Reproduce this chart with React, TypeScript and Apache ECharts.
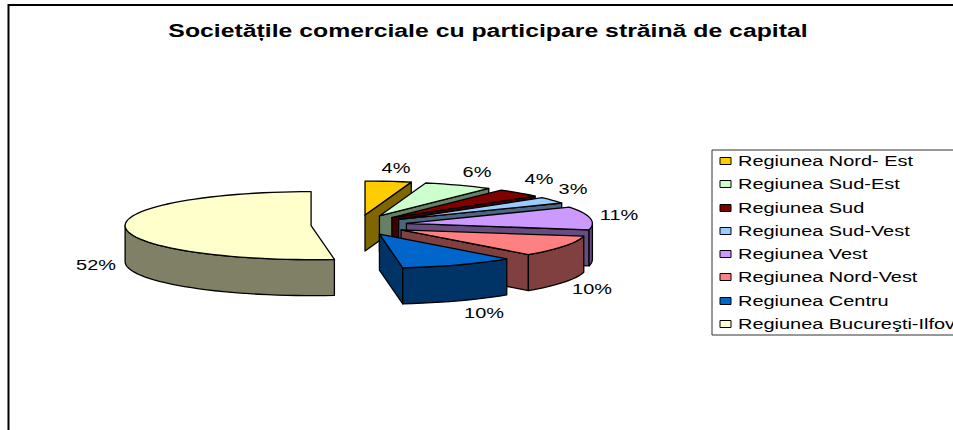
import React, { useEffect, useRef } from "react";
import * as echarts from "echarts";

const categories = [
  "Regiunea Nord- Est",
  "Regiunea Sud-Est",
  "Regiunea Sud",
  "Regiunea Sud-Vest",
  "Regiunea Vest",
  "Regiunea Nord-Vest",
  "Regiunea Centru",
  "Regiunea Bucureşti-Ilfov",
];
const values = [4, 6, 4, 3, 11, 10, 10, 52];
const titleText = "Societățile comerciale cu participare străină de capital";

const topColors = ["#FFCC00", "#CCFFCC", "#800000", "#99CCFF", "#CC99FF", "#FF8080", "#0066CC", "#FFFFCC"];
const wallColors = ["#806600", "#668066", "#400000", "#4D6680", "#664D80", "#804040", "#003366", "#808066"];

// Layout of the exploded pie
const CX = 359, CY = 225, RX = 186, RY = 34, EX = 48, EY = 10, DEPTH = 36;
const FONT = '15px "Liberation Sans", Arial, sans-serif';
const TEXT_SCALE = 1.33;
const labelAnchors = [
  [396, 168], [477, 172], [539, 179], [573, 189], [619, 215], [592, 289], [484, 313], [96, 265],
];

const rad = (d: number) => (d * Math.PI) / 180;
const total = values.reduce((a, b) => a + b, 0);

function renderSlice(params: any, api: any) {
  const i = params.dataIndex;
  const value = api.value(0);
  const before = values.slice(0, i).reduce((a, b) => a + b, 0);
  const start = (before / total) * 360;
  const end = ((before + value) / total) * 360;
  const mid = (start + end) / 2;
  const ax = CX + EX * Math.sin(rad(mid));
  const ay = CY - EY * Math.cos(rad(mid));
  const rim = (deg: number): number[] => [ax + RX * Math.sin(rad(deg)), ay - RY * Math.cos(rad(deg))];
  const arc = (a: number, b: number): number[][] => {
    const n = Math.max(2, Math.ceil((b - a) / 3));
    const pts: number[][] = [];
    for (let k = 0; k <= n; k++) pts.push(rim(a + ((b - a) * k) / n));
    return pts;
  };
  const down = (p: number[]) => [p[0], p[1] + DEPTH];
  const stroke = { stroke: "#000", lineWidth: 1.3, lineJoin: "round" };
  const wall = (points: number[][]) => ({
    type: "polygon",
    shape: { points },
    style: { fill: wallColors[i], ...stroke },
  });
  const children: any[] = [];
  if (Math.sin(rad(end)) > 0.001) {
    const p = rim(end);
    children.push(wall([[ax, ay], p, down(p), [ax, ay + DEPTH]]));
  }
  if (Math.sin(rad(start)) < -0.001) {
    const p = rim(start);
    children.push(wall([[ax, ay], p, down(p), [ax, ay + DEPTH]]));
  }
  const a0 = Math.max(start, 90);
  const a1 = Math.min(end, 270);
  if (a1 > a0) {
    const top = arc(a0, a1);
    children.push(wall([...top, ...top.slice().reverse().map(down)]));
  }
  children.push({
    type: "polygon",
    shape: { points: [[ax, ay], ...arc(start, end)] },
    style: { fill: topColors[i], ...stroke },
  });
  const [lx, ly] = labelAnchors[i];
  children.push({
    type: "text",
    x: lx,
    y: ly,
    scaleX: TEXT_SCALE,
    z2: 50,
    style: {
      text: `${value}%`,
      font: FONT,
      fill: "#000",
      textAlign: "center",
      textVerticalAlign: "middle",
    },
  });
  return { type: "group", children };
}

export default function App() {
  const ref = useRef<HTMLDivElement>(null);
  useEffect(() => {
    const chart = echarts.init(ref.current!, null, { renderer: "svg" });
    const legendRowsY = [161, 184, 208, 231, 254, 277, 301, 324];
    const legendItems: any[] = [];
    categories.forEach((name, i) => {
      legendItems.push({
        type: "rect",
        shape: { x: 720, y: legendRowsY[i] - 3.5, width: 11, height: 7 },
        style: { fill: topColors[i], stroke: "#000", lineWidth: 1 },
      });
      legendItems.push({
        type: "text",
        x: 738,
        y: legendRowsY[i],
        scaleX: TEXT_SCALE,
        style: { text: name, font: FONT, fill: "#000", textAlign: "left", textVerticalAlign: "middle" },
      });
    });
    chart.setOption({
      animation: false,
      backgroundColor: "#fff",
      series: [
        {
          type: "custom",
          coordinateSystem: "none",
          renderItem: renderSlice,
          data: values.map((v) => [v]),
          clip: false,
          silent: true,
        },
      ],
      graphic: [
        {
          type: "polyline",
          shape: { points: [[8.5, 430], [8.5, 5], [953, 5]] },
          style: { stroke: "#000", lineWidth: 2, fill: "none" },
        },
        {
          type: "text",
          x: 488,
          y: 30.5,
          scaleX: 1.378,
          style: {
            text: titleText,
            font: 'bold 18px "Liberation Sans", Arial, sans-serif',
            fill: "#000",
            textAlign: "center",
            textVerticalAlign: "middle",
          },
        },
        {
          type: "rect",
          shape: { x: 712, y: 150, width: 260, height: 185 },
          style: { fill: "#fff", stroke: "#333", lineWidth: 1 },
        },
        { type: "group", children: legendItems },
      ],
    });
    return () => chart.dispose();
  }, []);
  return <div ref={ref} style={{ position: "fixed", left: 0, top: 0, width: 953, height: 430, background: "#fff" }} />;
}
